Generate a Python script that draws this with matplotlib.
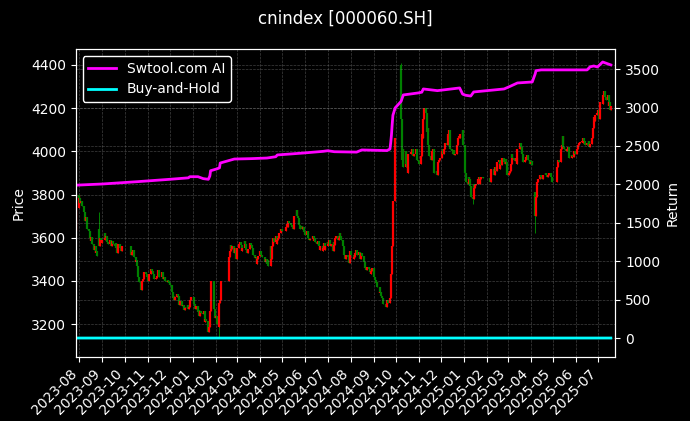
import numpy as np
import pandas as pd
import matplotlib
matplotlib.use('Agg')
import matplotlib.pyplot as plt
import matplotlib.dates as mdates

# --- data ---
holidays = ['2023-09-29', '2023-10-02', '2023-10-03', '2023-10-04', '2023-10-05', '2023-10-06',
            '2024-01-01', '2024-02-09', '2024-02-12', '2024-02-13', '2024-02-14', '2024-02-15',
            '2024-02-16', '2024-04-04', '2024-04-05', '2024-05-01', '2024-05-02', '2024-05-03',
            '2024-06-10', '2024-09-16', '2024-09-17', '2024-10-01', '2024-10-02', '2024-10-03',
            '2024-10-04', '2024-10-07', '2025-01-01', '2025-01-28', '2025-01-29', '2025-01-30',
            '2025-01-31', '2025-02-03', '2025-02-04', '2025-04-04', '2025-05-01', '2025-05-02',
            '2025-05-05', '2025-06-02']

first_open = 3630
close = [
    3740, 3800,  # 2023-07
    3785, 3760, 3770, 3745, 3720, 3705, 3680, 3695, 3640, 3630, 3600, 3585, 3605, 3570, 3545, 3560,
    3530, 3540, 3515, 3560, 3600, 3590, 3575,  # 2023-08
    3590, 3620, 3600, 3610, 3580, 3570, 3590, 3575, 3560, 3585, 3570, 3560, 3575, 3555, 3530, 3570,
    3555, 3540, 3550, 3560,  # 2023-09
    3530, 3520, 3535, 3545, 3510, 3490, 3495, 3470, 3420, 3395, 3360, 3380, 3400, 3410, 3440, 3430,
    3420,  # 2023-10
    3410, 3400, 3430, 3455, 3445, 3430, 3420, 3410, 3415, 3425, 3450, 3430, 3420, 3425, 3440, 3410,
    3420, 3400, 3395, 3405, 3400, 3390,  # 2023-11
    3380, 3350, 3320, 3330, 3310, 3325, 3340, 3330, 3300, 3290, 3305, 3285, 3290, 3265, 3280, 3275,
    3290, 3270, 3280, 3310, 3325,  # 2023-12
    3300, 3295, 3270, 3285, 3255, 3265, 3240, 3260, 3250, 3245, 3260, 3210, 3225, 3215, 3165, 3185,
    3260, 3380, 3400, 3350, 3270, 3230,  # 2024-01
    3240, 3200, 3185, 3300, 3310, 3400, 3510, 3540, 3565, 3550, 3560, 3530, 3555, 3500, 3545,  # 2024-02
    3555, 3570, 3580, 3565, 3540, 3555, 3585, 3570, 3545, 3530, 3550, 3575, 3560, 3565, 3555, 3520,
    3505, 3510, 3480, 3500, 3515,  # 2024-03
    3540, 3520, 3510, 3490, 3500, 3480, 3495, 3470, 3560, 3500, 3560, 3600, 3580, 3610, 3570, 3590,
    3600, 3620, 3640, 3630,  # 2024-04
    3650, 3665, 3650, 3680, 3670, 3660, 3650, 3640, 3680, 3700, 3730, 3700, 3690, 3660, 3640, 3655,
    3640, 3650, 3625, 3615,  # 2024-05
    3630, 3620, 3600, 3590, 3595, 3610, 3585, 3600, 3580, 3570, 3585, 3560, 3545, 3560, 3540, 3555,
    3575, 3545, 3560,  # 2024-06
    3580, 3570, 3590, 3560, 3570, 3540, 3580, 3565, 3600, 3610, 3590, 3600, 3620, 3610, 3590, 3560,
    3520, 3505, 3500, 3520, 3510, 3485, 3540,  # 2024-07
    3535, 3520, 3500, 3510, 3530, 3545, 3520, 3535, 3510, 3500, 3530, 3515, 3490, 3470, 3460, 3450,
    3465, 3455, 3440, 3430, 3445, 3460,  # 2024-08
    3420, 3405, 3390, 3395, 3370, 3345, 3350, 3330, 3320, 3295, 3280, 3310, 3300, 3320, 3400, 3430,
    3560, 3770, 4060,  # 2024-09
    4150, 3960, 4010, 3930, 4000, 3940, 3930, 3900, 3990, 3990, 3995, 4010, 3980, 3990, 4010, 3970,
    3960, 3955,  # 2024-10
    3940, 3980, 4080, 4060, 4150, 4200, 4180, 4090, 4110, 4030, 3980, 3960, 4000, 4010, 3990, 3900,
    3910, 3890, 3950, 3960, 3970,  # 2024-11
    4000, 4010, 3990, 4010, 4040, 4030, 4080, 4070, 4100, 4010, 4000, 3990, 4005, 3985, 3990, 4030,
    4060, 4070, 4060, 4080, 4100, 4030,  # 2024-12
    3900, 3860, 3850, 3880, 3870, 3840, 3790, 3780, 3850, 3830, 3845, 3850, 3870, 3880, 3850, 3870,
    3880, 3875,  # 2025-01
    3860, 3900, 3920, 3910, 3890, 3930, 3910, 3950, 3960, 3920, 3940, 3935, 3970, 3950, 3940, 3965,
    3950, 3890,  # 2025-02
    3900, 3910, 3940, 3990, 3970, 3960, 3955, 3970, 3940, 4010, 4020, 4040, 4020, 3990, 3950, 3960,
    3970, 3975, 3985, 3960, 3940,  # 2025-03
    3950, 3955, 3935, 3700, 3790, 3850, 3860, 3870, 3890, 3880, 3870, 3880, 3890, 3900, 3890, 3880,
    3890, 3900, 3880, 3870, 3860,  # 2025-04
    3900, 3930, 3960, 3950, 4010, 4030, 4070, 4020, 4010, 4000, 4010, 4020, 3990, 3970, 3985, 3980,
    3975, 4000, 3990,  # 2025-05
    4010, 4030, 4040, 4045, 4050, 4040, 4060, 4050, 4030, 4040, 4030, 4050, 4020, 4035, 4060, 4110,
    4160, 4140, 4170, 4180,  # 2025-06
    4190, 4150, 4200, 4230, 4220, 4260, 4280, 4250, 4240, 4260, 4210, 4230, 4190, 4210,  # 2025-07
]

# days whose open / high / low stand out from the body
special_open = {'2023-08-28': 3640, '2024-10-08': 4400, '2025-04-07': 3810}
special_high = {'2023-08-28': 3720, '2024-10-08': 4410}
special_low = {'2024-02-05': 3140, '2025-01-13': 3755, '2025-04-07': 3620}

ai_dates = ['2023-07-28', '2023-09-01', '2023-10-18', '2023-12-01', '2023-12-26', '2023-12-28',
            '2024-01-08', '2024-01-15', '2024-01-22', '2024-01-24', '2024-01-25', '2024-02-02',
            '2024-02-06', '2024-02-07', '2024-02-26', '2024-03-20', '2024-04-10', '2024-04-22',
            '2024-04-24', '2024-05-29', '2024-06-25', '2024-07-01', '2024-07-10', '2024-08-09',
            '2024-08-16', '2024-09-19', '2024-09-23', '2024-09-24', '2024-09-25', '2024-09-26',
            '2024-09-27', '2024-09-30', '2024-10-08', '2024-10-11', '2024-10-31', '2024-11-05',
            '2024-11-07', '2024-11-26', '2024-12-26', '2024-12-30', '2025-01-03', '2025-01-10',
            '2025-01-14', '2025-02-24', '2025-03-05', '2025-03-14', '2025-04-03', '2025-04-07',
            '2025-04-08', '2025-04-15', '2025-06-16', '2025-06-20', '2025-06-25', '2025-06-30',
            '2025-07-07', '2025-07-18']
ai_return = [1990, 2005, 2035, 2066, 2085, 2100,
             2100, 2075, 2066, 2110, 2178, 2200,
             2215, 2278, 2330, 2335, 2343, 2360,
             2383, 2408, 2430, 2438, 2425, 2420,
             2448, 2440, 2460, 2540, 2640, 2780,
             2900, 2995, 3080, 3164, 3190, 3200,
             3242, 3220, 3255, 3175, 3160, 3150,
             3203, 3242, 3280, 3320, 3333, 3440,
             3480, 3490, 3490, 3530, 3541, 3528,
             3593, 3555]

# --- build candles ---
dates = pd.bdate_range('2023-07-28', '2025-07-18')
dates = dates[~dates.isin(pd.to_datetime(holidays))]
n = min(len(dates), len(close))
dates = dates[:n]
close = np.array(close[:n], dtype=float)

opens = np.r_[first_open, close[:-1]].astype(float)
for d, v in special_open.items():
    opens[dates.get_loc(pd.Timestamp(d))] = v
high = np.maximum(opens, close)
low = np.minimum(opens, close)
for d, v in special_high.items():
    high[dates.get_loc(pd.Timestamp(d))] = v
for d, v in special_low.items():
    low[dates.get_loc(pd.Timestamp(d))] = v

# buy-and-hold as a plain ratio, so it sits on zero at this scale
bh_return = close / close[0] - 1

plt.style.use('dark_background')
fig = plt.figure(figsize=(6.9, 4.21), dpi=100)
ax = fig.add_axes([0.1097, 0.152, 0.782, 0.7316])
ax2 = ax.twinx()

colors = np.where(close >= opens, 'red', 'green')
ax.vlines(dates, low, high, colors=colors, linewidth=0.7)
ax.vlines(dates, np.minimum(opens, close), np.maximum(opens, close), colors=colors, linewidth=1.6)

ax2.plot(pd.to_datetime(ai_dates), ai_return, color='magenta', linewidth=2, label='Swtool.com AI')
ax2.plot(dates, bh_return, color='cyan', linewidth=2, label='Buy-and-Hold')

ax.set_xlim(pd.Timestamp('2023-07-27'), pd.Timestamp('2025-07-24'))
ax.set_ylim(3048, 4474)
ax2.set_ylim(-247, 3762)
ax.set_yticks(np.arange(3200, 4401, 200))
ax2.set_yticks(np.arange(0, 3501, 500))

ax.xaxis.set_major_locator(mdates.MonthLocator())
ax.xaxis.set_major_formatter(mdates.DateFormatter('%Y-%m'))
plt.setp(ax.get_xticklabels(), rotation=45, ha='right')

ax.grid(True, linestyle='--', linewidth=0.5, color='gray', alpha=0.5)
ax2.grid(True, linestyle='--', linewidth=0.5, color='gray', alpha=0.5)

ax.set_ylabel('Price')
ax2.set_ylabel('Return')
fig.suptitle('cnindex [000060.SH]', fontsize=12, y=0.977)

leg = ax2.legend(loc='upper left', facecolor='black', edgecolor='white', framealpha=1)

fig.savefig('out.png', dpi=100)
